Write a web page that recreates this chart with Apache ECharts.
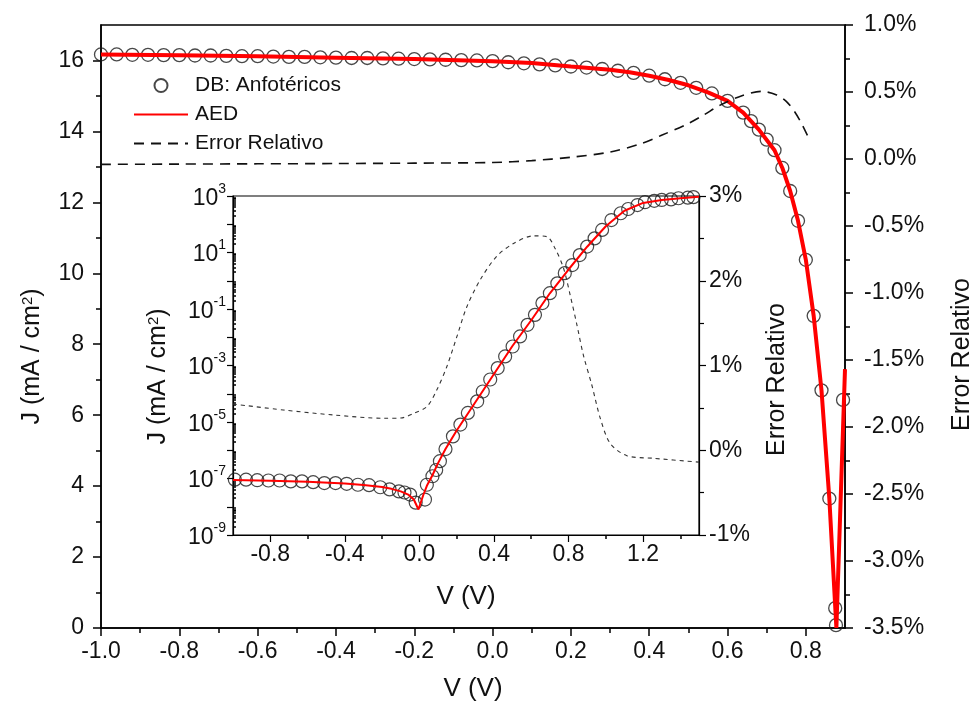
<!DOCTYPE html>
<html><head><meta charset="utf-8">
<script src="https://cdn.jsdelivr.net/npm/echarts@6/dist/echarts.min.js"></script>
<style>html,body{margin:0;padding:0;background:#fff}#c{width:979px;height:713px}</style>
</head><body><div id="c"></div>
<script>
// ---------- main chart data (illuminated J-V) ----------
const mainV = [-1.00,-0.96,-0.92,-0.88,-0.84,-0.80,-0.76,-0.72,-0.68,-0.64,-0.60,-0.56,-0.52,-0.48,-0.44,-0.40,-0.36,-0.32,-0.28,-0.24,-0.20,-0.16,-0.12,-0.08,-0.04,
  0.00,0.04,0.08,0.12,0.16,0.20,0.24,0.28,0.32,0.36,0.40,0.44,0.48,0.52,0.56,0.60,
  0.64,0.66,0.68,0.70,0.72,0.74,0.76,0.78,0.80,0.82,0.84,0.86,0.875,0.877,0.895];
const mainJ = [16.17,16.17,16.16,16.16,16.15,16.15,16.14,16.14,16.13,16.12,16.12,16.11,16.10,16.10,16.09,16.08,16.07,16.07,16.06,16.05,16.04,16.03,16.02,16.01,16.00,
  15.98,15.95,15.92,15.89,15.86,15.83,15.80,15.76,15.71,15.65,15.57,15.47,15.37,15.23,15.07,14.86,
  14.53,14.29,14.05,13.77,13.47,12.97,12.32,11.48,10.38,8.80,6.70,3.65,0.56,0.08,6.43];
const aedV = [-1.0,-0.8,-0.6,-0.4,-0.2,0.0,0.1,0.2,0.3,0.35,0.4,0.45,0.5,0.55,0.6,0.64,0.68,0.72,0.74,0.76,0.78,0.80,0.82,0.84,0.86,0.878,0.90];
const aedJ = [16.17,16.15,16.12,16.08,16.04,15.98,15.93,15.83,15.74,15.67,15.57,15.45,15.30,15.10,14.86,14.53,14.05,13.47,12.97,12.32,11.48,10.38,8.80,6.70,3.65,0.0,7.3];
const errV = [-1.0,-0.8,-0.6,-0.4,-0.2,0.0,0.1,0.2,0.3,0.38,0.43,0.5,0.54,0.58,0.63,0.686,0.724,0.75,0.771,0.79,0.805];
const errE = [-0.04,-0.038,-0.036,-0.034,-0.031,-0.026,-0.012,0.013,0.052,0.115,0.175,0.265,0.33,0.40,0.465,0.505,0.48,0.43,0.355,0.26,0.17];

// ---------- inset data (dark J-V, log scale) ----------
const inV = [-0.99,-0.93,-0.87,-0.81,-0.75,-0.69,-0.63,-0.57,-0.51,-0.45,-0.39,-0.33,-0.27,-0.21,-0.16,-0.11,-0.08,-0.05,-0.02,
  0.03,0.04,0.07,0.09,0.11,0.14,0.18,0.22,0.26,0.31,0.34,0.38,0.42,0.46,0.50,0.54,0.58,0.62,0.66,0.70,0.74,0.78,0.82,0.86,0.90,0.94,0.98,
  1.03,1.08,1.12,1.17,1.21,1.26,1.30,1.35,1.39,1.44,1.47];
const inJ = [9.1e-8,9.1e-8,8.7e-8,8.5e-8,8.5e-8,7.9e-8,7.9e-8,7.4e-8,6.9e-8,6.9e-8,6.5e-8,6.0e-8,5.8e-8,4.9e-8,4.1e-8,3.5e-8,3.2e-8,2.7e-8,1.4e-8,
  1.8e-8,6.0e-8,1.2e-7,2.0e-7,4.1e-7,1.1e-6,3.1e-6,8.1e-6,2.1e-5,5.4e-5,1.2e-4,3.2e-4,8.1e-4,2.1e-3,4.7e-3,1.07e-2,2.75e-2,6.2e-2,0.162,0.363,0.81,1.86,3.6,8.1,16.2,31.6,63,
  141,245,347,479,603,676,724,759,832,871,912];
const inAedV = [-1.0,-0.8,-0.6,-0.4,-0.3,-0.2,-0.15,-0.1,-0.06,-0.03,-0.005,0.02,0.04,0.07,0.1,0.14,0.2,0.3,0.4,0.5,0.6,0.7,0.8,0.9,1.0,1.1,1.2,1.3,1.4,1.5];
const inAedJ = [8.9e-8,8.3e-8,7.6e-8,6.6e-8,5.9e-8,5.0e-8,4.3e-8,3.5e-8,2.7e-8,1.8e-8,8.0e-9,2.5e-8,5.5e-8,1.3e-7,3.5e-7,1.1e-6,5.0e-6,5.0e-5,5.0e-4,5.0e-3,4.0e-2,0.36,2.5,16,85,300,570,720,830,950];
const inErrV = [-1.0,-0.73,-0.46,-0.19,-0.1,-0.03,0.04,0.093,0.147,0.201,0.254,0.326,0.415,0.505,0.612,0.684,0.728,0.773,0.809,0.845,0.88,0.925,0.97,1.024,1.113,1.256,1.5];
const inErrE = [0.546,0.475,0.416,0.377,0.38,0.436,0.514,0.71,0.986,1.34,1.69,2.01,2.29,2.44,2.53,2.52,2.38,2.15,1.83,1.48,1.12,0.77,0.38,0.08,-0.064,-0.095,-0.14];

// ---------- tick values ----------
const mainXTicks = [-1.0,-0.8,-0.6,-0.4,-0.2,0.0,0.2,0.4,0.6,0.8];
const mainXMinor = [-0.9,-0.7,-0.5,-0.3,-0.1,0.1,0.3,0.5,0.7];
const mainYTicks = [0,2,4,6,8,10,12,14,16];
const mainYMinor = [1,3,5,7,9,11,13,15];
const inXTicks = [-0.8,-0.4,0.0,0.4,0.8,1.2];
const inXMinor = [-0.6,-0.2,0.2,0.6,1.0,1.4];
const inYLabels = [1e-9,1e-7,1e-5,1e-3,1e-1,1e1,1e3];
const inYDecades = [1e-9,1e-8,1e-7,1e-6,1e-5,1e-4,1e-3,1e-2,1e-1,1,1e1,1e2,1e3];

const inYMinor = [];
for (let i = 0; i < inYDecades.length - 1; i++) for (let m = 2; m <= 9; m++) inYMinor.push(inYDecades[i] * m);

const FF = "'Liberation Sans', Arial, sans-serif";
const BLK = '#111';
const pair = (a, b) => a.map((v, i) => [v, b[i]]);
const lineSt = {color: '#000', width: 1.5};
function minorAxis(grid, pos, min, max, vals, type, inside, len) {
  return {type: type || 'value', gridIndex: grid, position: pos, min: min, max: max,
    axisLine: {show: false, onZero: false}, axisLabel: {show: false}, splitLine: {show: false},
    axisTick: {show: true, customValues: vals, length: len || 5, inside: !!inside, lineStyle: lineSt}};
}

const chart = echarts.init(document.getElementById('c'), null, {renderer: 'canvas'});
chart.setOption({
  animation: false,
  backgroundColor: '#fff',
  textStyle: {fontFamily: FF},
  grid: [
    {left: 101, top: 25, width: 744, height: 603, show: true, borderColor: '#000', borderWidth: 1.5,
      backgroundColor: 'transparent', containLabel: false, outerBoundsMode: 'none'},
    {left: 233, top: 196, width: 466, height: 339, show: true, borderColor: '#000', borderWidth: 1.2,
      backgroundColor: 'transparent', containLabel: false, outerBoundsMode: 'none'}
  ],
  legend: {
    data: [
      {name: 'DB: Anfotéricos'},
      {name: 'AED', itemStyle: {opacity: 0}, lineStyle: {opacity: 1}},
      {name: 'Error Relativo', itemStyle: {opacity: 0}, lineStyle: {opacity: 1}}
    ],
    orient: 'vertical', left: 128, top: 70, itemWidth: 54, itemHeight: 13, itemGap: 8,
    selectedMode: false,
    textStyle: {fontSize: 21, color: BLK, fontFamily: FF, padding: [0, 0, 0, 2]}
  },
  xAxis: [
    {type: 'value', gridIndex: 0, position: 'bottom', min: -1.0, max: 0.9,
      axisLine: {onZero: false, lineStyle: lineSt},
      axisTick: {customValues: mainXTicks, length: 8, lineStyle: lineSt},
      axisLabel: {customValues: mainXTicks, formatter: v => v.toFixed(1), fontSize: 23, color: BLK, margin: 12, fontFamily: FF},
      splitLine: {show: false},
      name: 'V (V)', nameLocation: 'middle', nameGap: 48, nameTextStyle: {fontSize: 26, color: BLK, fontFamily: FF}},
    minorAxis(0, 'bottom', -1.0, 0.9, mainXMinor),
    {type: 'value', gridIndex: 1, position: 'bottom', min: -1.0, max: 1.5,
      axisLine: {onZero: false, lineStyle: {color: '#000', width: 1.2}},
      axisTick: {customValues: inXTicks, length: 7, lineStyle: {color: '#000', width: 1.2}},
      axisLabel: {customValues: inXTicks, formatter: v => v.toFixed(1), fontSize: 23, color: BLK, margin: 8, fontFamily: FF},
      splitLine: {show: false},
      name: 'V (V)', nameLocation: 'middle', nameGap: 49, nameTextStyle: {fontSize: 26, color: BLK, fontFamily: FF}},
    minorAxis(1, 'bottom', -1.0, 1.5, inXMinor, 'value', false, 4)
  ],
  yAxis: [
    {type: 'value', gridIndex: 0, position: 'left', min: 0, max: 17,
      axisLine: {onZero: false, lineStyle: lineSt},
      axisTick: {customValues: mainYTicks, length: 8, lineStyle: lineSt},
      axisLabel: {customValues: mainYTicks, fontSize: 23, color: BLK, margin: 17, fontFamily: FF},
      splitLine: {show: false},
      name: 'J (mA / cm{s|2})', nameLocation: 'middle', nameGap: 56,
      nameTextStyle: {fontSize: 25, color: BLK, fontFamily: FF, padding: [0, 60, 0, 0],
        rich: {s: {fontSize: 15, verticalAlign: 'top', lineHeight: 12, fontFamily: FF, color: BLK}}}},
    minorAxis(0, 'left', 0, 17, mainYMinor),
    {type: 'value', gridIndex: 0, position: 'right', min: -3.5, max: 1.0, interval: 0.5,
      axisLine: {onZero: false, lineStyle: lineSt},
      axisTick: {length: 8, lineStyle: lineSt},
      minorTick: {show: true, splitNumber: 2, length: 5, lineStyle: lineSt},
      axisLabel: {formatter: v => v.toFixed(1) + '%', fontSize: 23, color: BLK, margin: 19, fontFamily: FF},
      splitLine: {show: false}, minorSplitLine: {show: false},
      name: 'Error Relativo', nameLocation: 'middle', nameGap: 105,
      nameTextStyle: {fontSize: 25, color: BLK, fontFamily: FF, padding: [0, 56, 0, 0]}},
    {type: 'log', logBase: 10, gridIndex: 1, position: 'left', min: 1e-9, max: 1e3,
      axisLine: {onZero: false, lineStyle: {color: '#000', width: 1.2}},
      axisTick: {customValues: inYDecades, length: 6, lineStyle: {color: '#000', width: 1.2}},
      axisLabel: {customValues: inYLabels, margin: 7, color: BLK,
        formatter: v => '{b|10}{e|' + Math.round(Math.log10(v)) + '}',
        rich: {b: {fontSize: 23, fontFamily: FF, color: BLK, lineHeight: 28, verticalAlign: 'bottom'},
               e: {fontSize: 14, fontFamily: FF, color: BLK, lineHeight: 14, verticalAlign: 'top'}}},
      splitLine: {show: false},
      name: 'J (mA / cm{s|2})', nameLocation: 'middle', nameGap: 62,
      nameTextStyle: {fontSize: 25, color: BLK, fontFamily: FF, padding: [0, 22, 0, 0],
        rich: {s: {fontSize: 15, verticalAlign: 'top', lineHeight: 12, fontFamily: FF, color: BLK}}}},
    minorAxis(1, 'left', 1e-9, 1e3, inYMinor, 'log', true, 3),
    {type: 'value', gridIndex: 1, position: 'right', min: -1, max: 3, interval: 1,
      axisLine: {onZero: false, lineStyle: {color: '#000', width: 1.2}},
      axisTick: {length: 7, lineStyle: {color: '#000', width: 1.2}},
      minorTick: {show: true, splitNumber: 2, length: 5, lineStyle: {color: '#000', width: 1.2}},
      axisLabel: {formatter: v => v + '%', fontSize: 23, color: BLK, margin: 10, fontFamily: FF},
      splitLine: {show: false}, minorSplitLine: {show: false},
      name: 'Error Relativo', nameLocation: 'middle', nameGap: 66,
      nameTextStyle: {fontSize: 25, color: BLK, fontFamily: FF, padding: [0, 28, 0, 0]}}
  ],
  series: [
    {name: 'DB: Anfotéricos', type: 'scatter', xAxisIndex: 0, yAxisIndex: 0, data: pair(mainV, mainJ),
      symbol: 'circle', symbolSize: 13, z: 2,
      itemStyle: {color: 'rgba(255,255,255,0)', borderColor: '#1a1a1a', borderWidth: 1.3}},
    {name: 'AED', type: 'line', xAxisIndex: 0, yAxisIndex: 0, data: pair(aedV, aedJ),
      symbol: 'none', z: 3, itemStyle: {color: '#ff0000'}, lineStyle: {color: '#ff0000', width: 4}},
    {name: 'Error Relativo', type: 'line', xAxisIndex: 0, yAxisIndex: 2, data: pair(errV, errE),
      symbol: 'none', smooth: 0.3, z: 3, itemStyle: {color: '#111'}, lineStyle: {color: '#111', width: 1.6, type: [10, 7]}},
    {name: 'DB inset', type: 'scatter', xAxisIndex: 2, yAxisIndex: 3, data: pair(inV, inJ),
      symbol: 'circle', symbolSize: 13, z: 2,
      itemStyle: {color: 'rgba(255,255,255,0)', borderColor: '#1a1a1a', borderWidth: 1.2}},
    {name: 'AED inset', type: 'line', xAxisIndex: 2, yAxisIndex: 3, data: pair(inAedV, inAedJ),
      symbol: 'none', z: 3, lineStyle: {color: '#ff0000', width: 2}},
    {name: 'Error inset', type: 'line', xAxisIndex: 2, yAxisIndex: 5, data: pair(inErrV, inErrE),
      symbol: 'none', smooth: 0.3, z: 3, lineStyle: {color: '#333', width: 1.1, type: [4, 4]}}
  ]
});
</script></body></html>
